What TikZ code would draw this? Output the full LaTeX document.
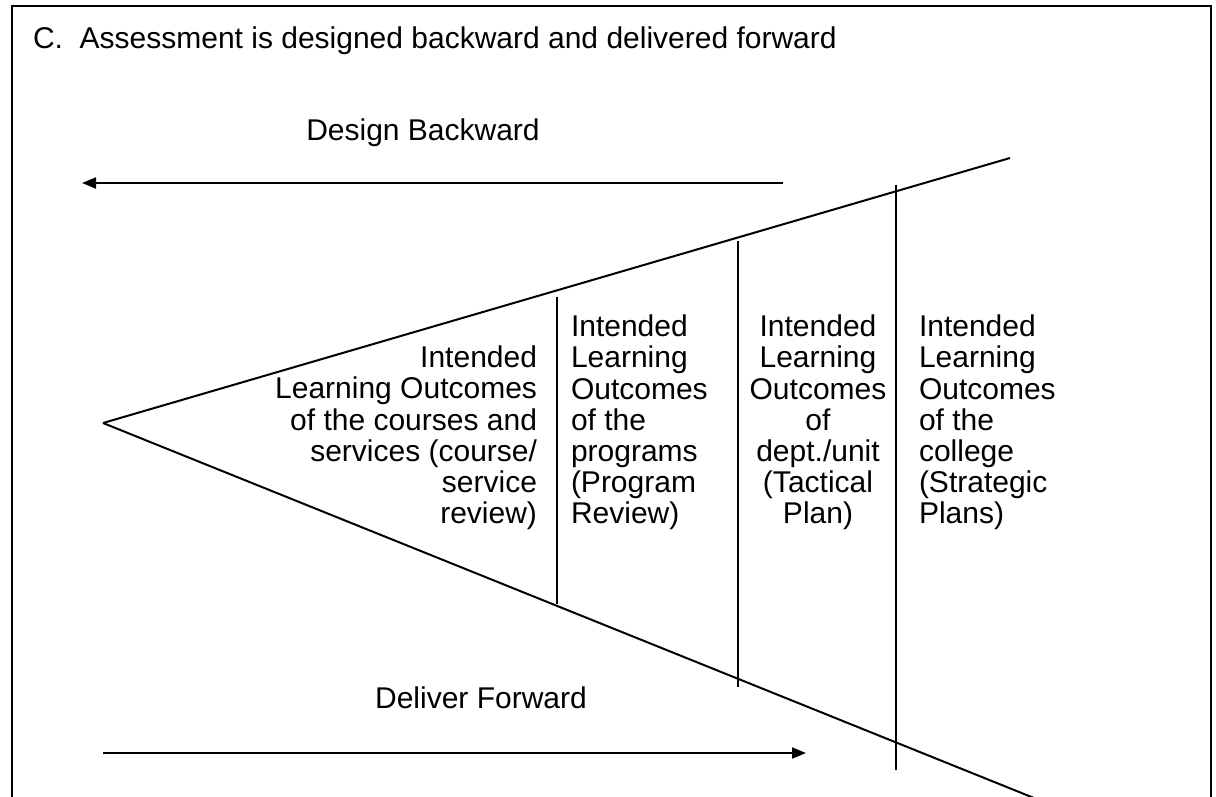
\documentclass[tikz,border=0pt]{standalone}
\usepackage{fontspec}
\setmainfont{Liberation Sans}
\usetikzlibrary{arrows.meta}
\begin{document}
\begin{tikzpicture}[x=1pt,y=-1pt,line width=2pt,
  txt/.style={inner sep=0pt,font=\fontsize{30}{31.2}\selectfont},
  arr/.style={-{Triangle[length=14pt,width=11pt]}}]
\clip (0,0) rectangle (1216,796);
\fill[white] (0,0) rectangle (1216,796);
\draw (12,6) rectangle (1211,830);
\node[txt,anchor=north west] (title) at (32,26) {C.\ \ Assessment is designed backward and delivered forward};
% arrows
\coordinate (dbs) at (783,183);
\coordinate (dbe) at (82,183);
\draw[arr] (dbs) -- (dbe);
\node[txt] (dbl) at (423,133) {Design Backward};
\coordinate (dfs) at (103,753);
\coordinate (dfe) at (806,753);
\draw[arr] (dfs) -- (dfe);
\node[txt] (dfl) at (481,698) {Deliver Forward};
% funnel
\coordinate (apex) at (103,423);
\coordinate (uend) at (1010,158);
\coordinate (lend) at (1034,798);
\draw (apex) -- (uend);
\draw (apex) -- (lend);
% dividers
\coordinate (v1t) at (557,297); \coordinate (v1b) at (557,604);
\coordinate (v2t) at (738,241); \coordinate (v2b) at (738,687);
\coordinate (v3t) at (896,185); \coordinate (v3b) at (896,770);
\draw (v1t) -- (v1b);
\draw (v2t) -- (v2b);
\draw (v3t) -- (v3b);
% texts
\node[txt,anchor=north east,align=right] (c1) at (538,345) {Intended\\Learning Outcomes\\of the courses and\\services (course/\\service\\review)};
\node[txt,anchor=north west,align=left] (c2) at (570,314) {Intended\\Learning\\Outcomes\\of the\\programs\\(Program\\Review)};
\node[txt,anchor=north,align=center] (c3) at (818,314) {Intended\\Learning\\Outcomes\\of\\dept./unit\\(Tactical\\Plan)};
\node[txt,anchor=north west,align=left] (c4) at (918,314) {Intended\\Learning\\Outcomes\\of the\\college\\(Strategic\\Plans)};
\end{tikzpicture}
\end{document}
